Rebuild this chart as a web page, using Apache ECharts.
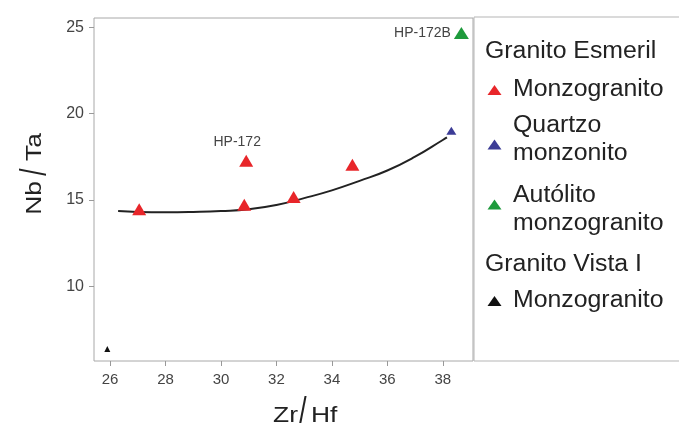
<!DOCTYPE html>
<html>
<head>
<meta charset="utf-8">
<script src="https://cdn.jsdelivr.net/npm/echarts@6/dist/echarts.min.js"></script>
<style>
html,body{margin:0;padding:0;background:#fff;}
#c{width:679px;height:428px;}
</style>
</head>
<body>
<div id="c"></div>
<script>
const xTicks = [26, 28, 30, 32, 34, 36, 38];
const yTicks = [10, 15, 20, 25];
const redPts = [[27.05, 14.45], [30.84, 14.71], [30.91, 17.26], [32.62, 15.17], [34.74, 17.03]];
const bluePts = [[38.31, 19.0]];
const greenPts = [[38.67, 24.67]];
const blackPts = [[25.9, 6.35]];
const trendX = [26.29, 27, 28, 29, 30, 31, 32, 33, 34, 35, 36, 37, 38, 38.15];
const trendY = [14.35, 14.3, 14.28, 14.3, 14.35, 14.45, 14.7, 15.1, 15.55, 16.1, 16.7, 17.5, 18.47, 18.62];
const labelHP172 = 'HP-172';
const labelHP172B = 'HP-172B';
const xTitle = ['Zr', 'Hf'];
const yTitle = ['Nb', 'Ta'];

const FONT = '"Liberation Sans", Arial, sans-serif';
const chart = echarts.init(document.getElementById('c'));

const trend = trendX.map((x, i) => [x, trendY[i]]);

const legendItems = [
  {type: 'header', text: 'Granito Esmeril', y: 52},
  {type: 'item', color: '#e8262a', lines: ['Monzogranito'], ty: 90, y: 90},
  {type: 'item', color: '#3c3c96', lines: ['Quartzo', 'monzonito'], ty: 144.5, y: 126},
  {type: 'item', color: '#1e9a3c', lines: ['Autólito', 'monzogranito'], ty: 204.5, y: 196},
  {type: 'header', text: 'Granito Vista I', y: 265},
  {type: 'item', color: '#111', lines: ['Monzogranito'], ty: 301, y: 301}
];
const graphics = [
  {type: 'rect', shape: {x: 474, y: 17, width: 220, height: 344}, style: {fill: 'none', stroke: '#b5b5b5', lineWidth: 1}, silent: true}
];
legendItems.forEach(it => {
  if (it.type === 'header') {
    graphics.push({type: 'text', x: 485, y: it.y, scaleX: 1.08, style: {text: it.text, font: '23px ' + FONT, fill: '#222', verticalAlign: 'middle'}});
  } else {
    const cx = 494.5, cy = it.ty;
    graphics.push({type: 'polygon', shape: {points: [[cx, cy - 5], [cx + 7, cy + 5], [cx - 7, cy + 5]]}, style: {fill: it.color}});
    it.lines.forEach((t, k) => {
      graphics.push({type: 'text', x: 513, y: it.y + k * 28, scaleX: 1.08, style: {text: t, font: '23px ' + FONT, fill: '#222', verticalAlign: 'middle'}});
    });
  }
});

function axisTitle(parts, ox, oy, rot, gapL, gapR, slashY) {
  const st = {font: '22px ' + FONT, fill: '#222', verticalAlign: 'middle'};
  return {
    type: 'group', x: ox, y: oy, rotation: rot,
    children: [
      {type: 'text', x: -gapL, y: 0, scaleX: 1.2, style: Object.assign({text: parts[0], align: 'right'}, st)},
      {type: 'text', x: 0, y: slashY, scaleX: 1.2, scaleY: 1.7, style: Object.assign({text: '/', align: 'center'}, st)},
      {type: 'text', x: gapR, y: 0, scaleX: 1.2, style: Object.assign({text: parts[1], align: 'left'}, st)}
    ]
  };
}
graphics.push(axisTitle(xTitle, 303, 415.5, 0, 5, 8, -3));
graphics.push(axisTitle(yTitle, 34.5, 172, Math.PI / 2, 9, 11, 1));

chart.setOption({
  animation: false,
  backgroundColor: '#fff',
  grid: {left: 94, top: 18, right: 206, bottom: 67, show: true, borderColor: '#a8a8a8', borderWidth: 1, outerBoundsMode: 'none', containLabel: false},
  xAxis: {
    type: 'value', min: 25.42, max: 39.09,
    axisLine: {show: false},
    splitLine: {show: false},
    axisTick: {show: true, customValues: xTicks, length: 5, lineStyle: {color: '#999'}},
    axisLabel: {customValues: xTicks, fontSize: 15, color: '#444', fontFamily: FONT, margin: 11}
  },
  yAxis: {
    type: 'value', min: 5.66, max: 25.54,
    axisLine: {show: false},
    splitLine: {show: false},
    axisTick: {show: true, customValues: yTicks, length: 5, lineStyle: {color: '#999'}},
    axisLabel: {customValues: yTicks, fontSize: 16, color: '#444', fontFamily: FONT, margin: 10}
  },
  series: [
    {type: 'line', data: trend, smooth: true, showSymbol: false, lineStyle: {color: '#222', width: 2}, z: 1},
    {type: 'scatter', symbol: 'triangle', symbolSize: [14, 12], itemStyle: {color: '#e8262a', opacity: 1},
      data: redPts.map(p => (p[0] === 30.91 ? {value: p, label: {show: true, formatter: labelHP172, position: 'top', distance: 6, offset: [-9, 0], fontSize: 14, color: '#444', fontFamily: FONT}} : p)), z: 3},
    {type: 'scatter', symbol: 'triangle', symbolSize: [10, 8], itemStyle: {color: '#3c3c96', opacity: 1}, data: bluePts, z: 3},
    {type: 'scatter', symbol: 'triangle', symbolSize: [15, 12], itemStyle: {color: '#1e9a3c', opacity: 1},
      data: greenPts.map(p => ({value: p, label: {show: true, formatter: labelHP172B, position: 'left', distance: 3, fontSize: 14, color: '#444', fontFamily: FONT}})), z: 3},
    {type: 'scatter', symbol: 'triangle', symbolSize: [6, 6], itemStyle: {color: '#111', opacity: 1}, data: blackPts, z: 3}
  ],
  graphic: graphics
});
</script>
</body>
</html>
